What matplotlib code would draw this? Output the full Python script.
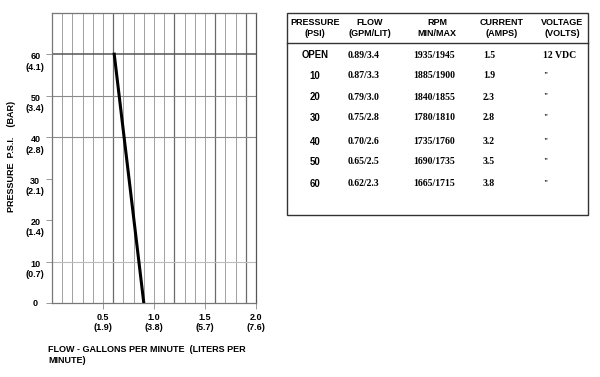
import matplotlib
matplotlib.use("Agg")
import matplotlib.pyplot as plt
from matplotlib.patches import Rectangle
from matplotlib import font_manager
from matplotlib.transforms import ScaledTranslation

# ---- data ----
line_flow = [0.90, 0.61]          # GPM at 0 psi and 60 psi (curve as drawn)
line_psi = [0, 60]
y_ticks = [0, 10, 20, 30, 40, 50, 60]
y_tick_labels = ["0", "10\n(0.7)", "20\n(1.4)", "30\n(2.1)", "40\n(2.8)", "50\n(3.4)", "60\n(4.1)"]
x_ticks = [0.5, 1.0, 1.5, 2.0]
x_tick_labels = ["0.5\n(1.9)", "1.0\n(3.8)", "1.5\n(5.7)", "2.0\n(7.6)"]
h_grid = [10, 40, 50]
v_grid = [round(0.1 * i, 1) for i in range(1, 20)]

table_headers = ["PRESSURE\n(PSI)", "FLOW\n(GPM/LIT)", "RPM\nMIN/MAX", "CURRENT\n(AMPS)", "VOLTAGE\n(VOLTS)"]
pressure_col = ["OPEN", "10", "20", "30", "40", "50", "60"]
flow_col = ["0.89/3.4", "0.87/3.3", "0.79/3.0", "0.75/2.8", "0.70/2.6", "0.65/2.5", "0.62/2.3"]
rpm_col = ["1935/1945", "1885/1900", "1840/1855", "1780/1810", "1735/1760", "1690/1735", "1665/1715"]
current_col = ["1.5", "1.9", "2.3", "2.8", "3.2", "3.5", "3.8"]
voltage_col = ["12 VDC", "\"", "\"", "\"", "\"", "\"", "\""]

W, H = 600, 377
fig = plt.figure(figsize=(6, 3.77), dpi=100)
names = {f.name for f in font_manager.fontManager.ttflist}
narrow = "Liberation Sans Narrow" in names
sans = ["Liberation Sans Narrow", "Liberation Sans"] if narrow else ["Liberation Sans"]
fs = 7.4 if narrow else 6.5
serif = "Liberation Serif"

ax = fig.add_axes([52 / W, 1 - 303 / H, (256 - 52) / W, (303 - 12.7) / H])
ax.set_xlim(0, 2.0)
ax.set_ylim(0, 70)

dark_v = {0.6, 1.2, 1.6, 1.9}
for xv in v_grid:
    ax.axvline(xv, color="#6a6a6a" if xv in dark_v else "#a0a0a0", lw=0.9 if xv in dark_v else 0.7, zorder=1)
for yv in h_grid:
    ax.axhline(yv, color="#bbbbbb" if yv == 10 else "#8a8a8a", lw=0.8, zorder=1)
ax.axhline(60, color="#555555", lw=1.1, zorder=1)

ax.plot(line_flow, line_psi, color="black", lw=2.2, zorder=3)

for s in ax.spines.values():
    s.set_color("#777777")
    s.set_linewidth(0.9)
ax.spines["right"].set_color("#555555")

ax.set_yticks(y_ticks)
ax.set_yticklabels(y_tick_labels, fontsize=fs, fontweight="bold", family=sans, ha="center", multialignment="center")
ax.tick_params(axis="y", length=4, width=0.7, color="#999999", pad=8)
shift = ScaledTranslation(0, -6 / 100, fig.dpi_scale_trans)
for lab in ax.get_yticklabels():
    if "\n" in lab.get_text():
        lab.set_transform(lab.get_transform() + shift)
ax.set_xticks(x_ticks)
ax.set_xticklabels(x_tick_labels, fontsize=fs, fontweight="bold", family=sans, multialignment="center")
ax.tick_params(axis="x", length=4, width=0.7, color="#999999", pad=3)

fig.text(12 / W, 1 - 156 / H, "PRESSURE  P.S.I.    (BAR)", rotation=90, fontsize=fs,
         fontweight="bold", family=sans, ha="center", va="center")
fig.text(48 / W, 1 - 355 / H, "FLOW - GALLONS PER MINUTE  (LITERS PER\nMINUTE)", fontsize=fs,
         fontweight="bold", family=sans, ha="left", va="center", linespacing=1.15)

# ---- table ----
fig.patches.append(Rectangle((287 / W, 1 - 215 / H), (588 - 287) / W, (215 - 12.7) / H,
                             transform=fig.transFigure, fill=False, ec="#333333", lw=1.0))
fig.add_artist(plt.Line2D([287 / W, 588 / W], [1 - 43 / H, 1 - 43 / H], transform=fig.transFigure,
                          color="#333333", lw=1.0))

hdr_x = [315, 370, 437, 502, 583]
hdr_ha = ["center", "center", "center", "center", "right"]
for txt, xh, ha in zip(table_headers, hdr_x, hdr_ha):
    fig.text(xh / W, 1 - 28 / H, txt, fontsize=fs, fontweight="bold", family=sans,
             ha=ha, va="center", multialignment="center", linespacing=1.15)

row_y = [55, 76, 97, 118, 142, 162, 184]
for i, yy in enumerate(row_y):
    fig.text(315 / W, 1 - yy / H, pressure_col[i], fontsize=fs + 0.4, fontweight="bold",
             family=sans, ha="center", va="center")
    fig.text(348 / W, 1 - yy / H, flow_col[i], fontsize=7.0, fontweight="bold", family=serif,
             ha="left", va="center")
    fig.text(413 / W, 1 - yy / H, rpm_col[i], fontsize=7.0, fontweight="bold", family=serif,
             ha="left", va="center")
    fig.text(483 / W, 1 - yy / H, current_col[i], fontsize=7.0, fontweight="bold", family=serif,
             ha="left", va="center")
    fig.text(543 / W, 1 - yy / H, voltage_col[i], fontsize=7.0 if i == 0 else 5.5,
             fontweight="bold", family=serif, ha="left", va="center")

fig.savefig("out.png", dpi=100)
